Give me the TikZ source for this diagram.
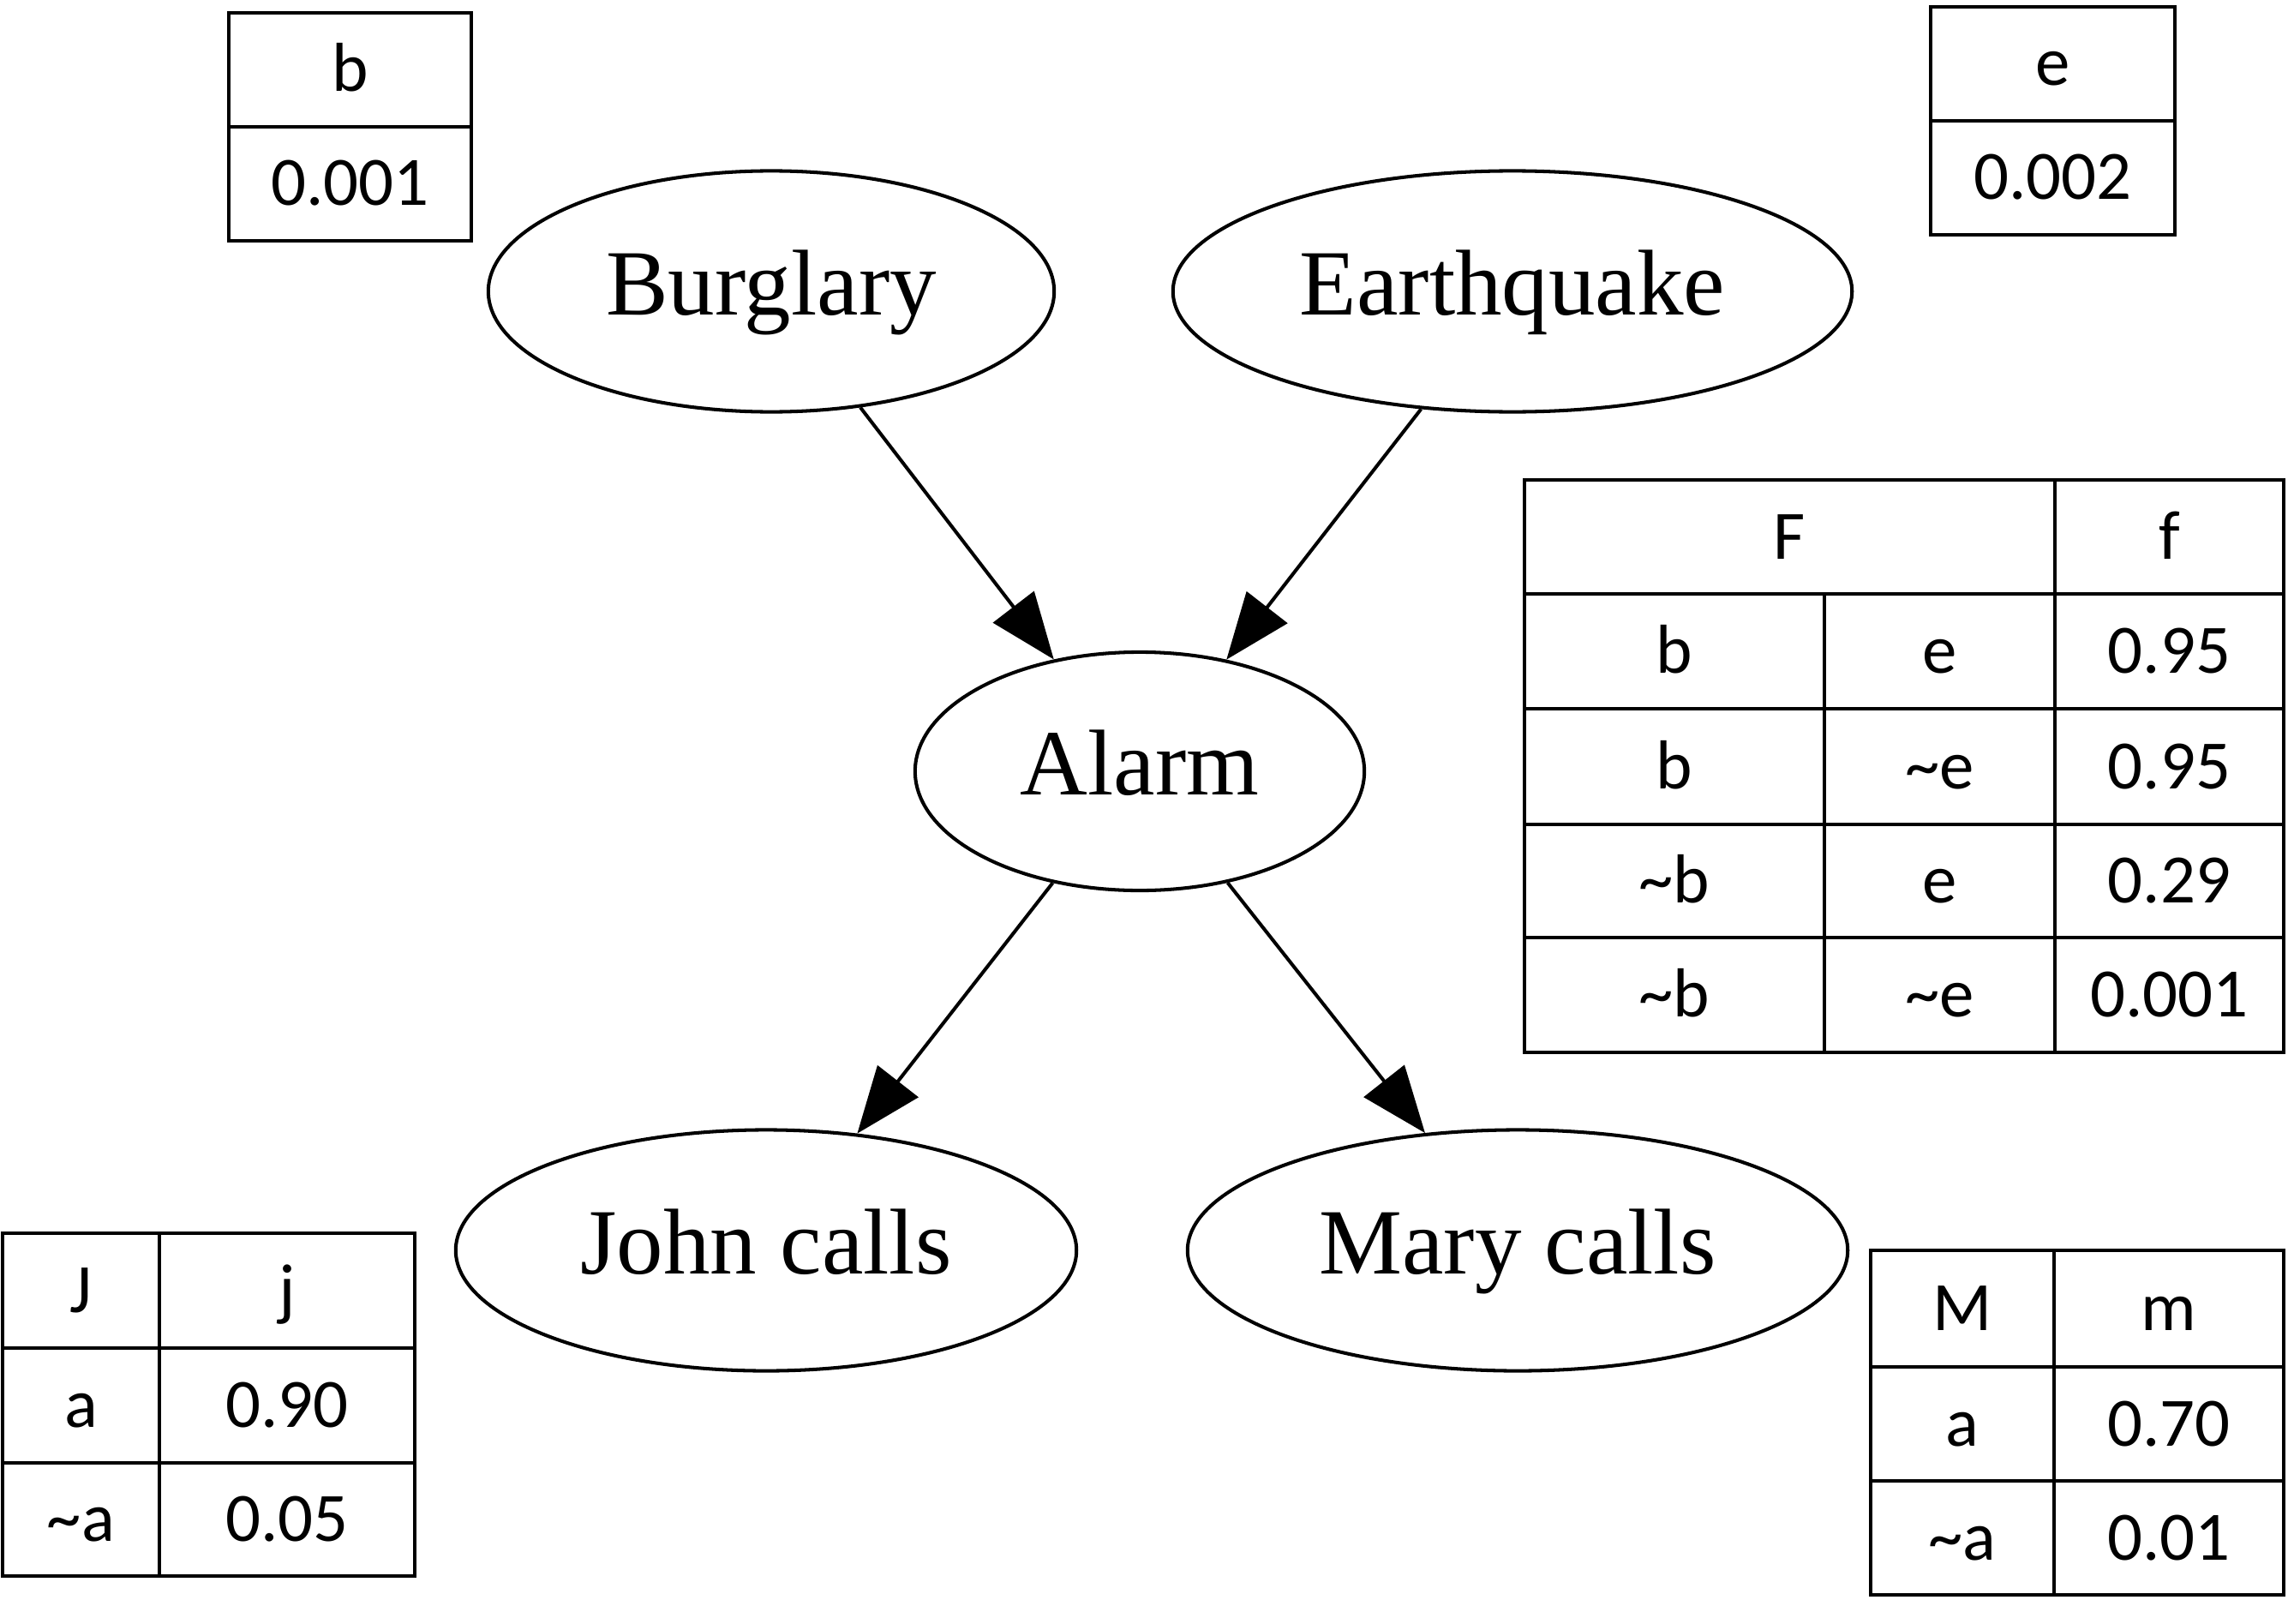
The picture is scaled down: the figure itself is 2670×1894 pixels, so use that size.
\documentclass[tikz,border=0pt]{standalone}
\usepackage{fontspec}
\setmainfont{Liberation Serif}
\newfontfamily\tabfont{Carlito}
\usetikzlibrary{arrows.meta,shapes.geometric}
\newcommand{\nt}{\textasciitilde}
\tikzset{
    var/.style={draw, ellipse, line width=1.15pt, inner sep=0pt, minimum height=2.81cm,
        font=\fontsize{31}{31}\selectfont, text height=21pt, text depth=5.6pt},
    edge/.style={line width=1.15pt, -{Triangle[length=22pt,width=17pt]}},
    cell/.style={inner sep=0pt, font=\tabfont\fontsize{23}{23}\selectfont, text height=14.5pt, text depth=0pt}
}
\begin{document}
\begin{tikzpicture}[x=0.01cm, y=-0.01cm]
    \useasboundingbox (0,0) rectangle (2670,1894);
    \node[var, minimum width=6.6cm] (burglary) at (900,340) {Burglary};
    \node[var, minimum width=7.92cm] (earthquake) at (1765,340) {Earthquake};
    \node[var, minimum width=5.24cm, minimum height=2.78cm] (alarm) at (1330,900) {Alarm};
    \node[var, minimum width=7.24cm] (john) at (894,1459) {John calls};
    \node[var, minimum width=7.7cm] (mary) at (1771,1459) {Mary calls};
    \draw[edge] (burglary) -- (alarm); \draw[edge] (earthquake) -- (alarm);
    \draw[edge] (alarm) -- (john); \draw[edge] (alarm) -- (mary);
    % tabelle
    \foreach \xa/\ya/\xb/\yb/\txt [count=\i] in {
        267/15/550/148/b, 267/148/550/281/0.001,
        2253/8/2538/141/e, 2253/141/2538/274/0.002,
        1779/560/2398/693/F, 2398/560/2665/693/f,
        1779/693/2129/827/b, 2129/693/2398/827/e, 2398/693/2665/827/0.95,
        1779/827/2129/962/b, 2129/827/2398/962/\nt e, 2398/827/2665/962/0.95,
        1779/962/2129/1094/\nt b, 2129/962/2398/1094/e, 2398/962/2665/1094/0.29,
        1779/1094/2129/1228/\nt b, 2129/1094/2398/1228/\nt e, 2398/1094/2665/1228/0.001,
        3/1439/186/1573/J, 186/1439/484/1573/j,
        3/1573/186/1707/a, 186/1573/484/1707/0.90,
        3/1707/186/1839/\nt a, 186/1707/484/1839/0.05,
        2183/1459/2397/1595/M, 2397/1459/2665/1595/m,
        2183/1595/2397/1728/a, 2397/1595/2665/1728/0.70,
        2183/1728/2397/1861/\nt a, 2397/1728/2665/1861/0.01} {
        \draw[line width=1.15pt] (\xa,\ya) rectangle (\xb,\yb);
        \node[cell] (cell\i) at ({(\xa+\xb)/2},{(\ya+\yb)/2}) {\txt};
    }
\end{tikzpicture}
\end{document}
